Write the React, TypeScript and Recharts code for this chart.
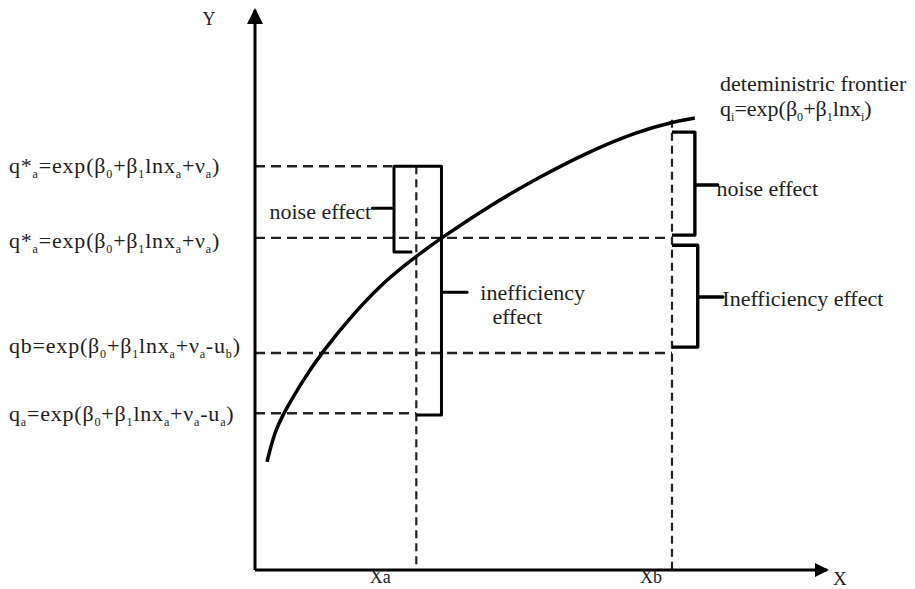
import React from 'react';
import { ComposedChart, Line, XAxis, YAxis, ReferenceLine, ReferenceDot } from 'recharts';

// ---- data (abstract units: input X 0..100, output Y 0..100) ----
const X_A = 28.2;
const X_B = 72.9;
const xTicks = [X_A, X_B];
const xTickLabels = ['Xa', 'Xb'];

const Q_STAR_TOP = 72.1;
const Q_STAR = 59.3;
const Q_B = 38.75;
const Q_A = 28.0;
const yTicks = [Q_STAR_TOP, Q_STAR, Q_B, Q_A];
type Part = [string, string];
const yTickLabels: Part[][] = [
  [['q*', ''], ['a', 's'], ['=exp(β', ''], ['0', 's'], ['+β', ''], ['1', 's'], ['lnx', ''], ['a', 's'], ['+ν', ''], ['a', 's'], [')', '']],
  [['q*', ''], ['a', 's'], ['=exp(β', ''], ['0', 's'], ['+β', ''], ['1', 's'], ['lnx', ''], ['a', 's'], ['+ν', ''], ['a', 's'], [')', '']],
  [['qb=exp(β', ''], ['0', 's'], ['+β', ''], ['1', 's'], ['lnx', ''], ['a', 's'], ['+ν', ''], ['a', 's'], ['-u', ''], ['b', 's'], [')', '']],
  [['q', ''], ['a', 's'], ['=exp(β', ''], ['0', 's'], ['+β', ''], ['1', 's'], ['lnx', ''], ['a', 's'], ['+ν', ''], ['a', 's'], ['-u', ''], ['a', 's'], [')', '']],
];

const frontierX = [2.1, 3.3, 5.1, 8.2, 11.6, 17.3, 23.1, 28.4, 32.6, 40.6, 49.4, 58.1, 66.9, 72.9, 76.9];
const frontierY = [19.3, 24.3, 28.2, 33.6, 38.75, 45.9, 52.0, 56.2, 59.3, 64.8, 70.0, 74.6, 78.3, 80.0, 80.7];

// brace outlines (polyline vertices)
const braceLeftX = [27.5, 24.3, 24.3, 20.5, 24.3, 24.3, 32.6, 32.6, 37.1, 32.6, 32.6, 28.2];
const braceLeftY = [56.8, 56.8, 64.6, 64.6, 64.6, 72.1, 72.1, 49.6, 49.6, 49.6, 27.7, 27.7];
const braceNoiseBX = [72.9, 76.9, 76.9, 80.9, 76.9, 76.9, 72.9];
const braceNoiseBY = [78.2, 78.2, 68.75, 68.75, 68.75, 59.8, 59.8];
const braceIneffBX = [72.9, 77.4, 77.4, 81.8, 77.4, 77.4, 72.9];
const braceIneffBY = [58.0, 58.0, 48.75, 48.75, 48.75, 39.8, 39.8];

// dashed guides: [x1, y1, x2, y2]
const guideH = [
  [0, Q_STAR_TOP, 24.0, Q_STAR_TOP],
  [0, Q_STAR, X_B, Q_STAR],
  [0, Q_B, X_B, Q_B],
  [0, Q_A, X_A, Q_A],
];
const guideV = [
  [X_A, Q_STAR_TOP, X_A, 0],
  [X_B, 80.4, X_B, 0],
];

// annotations: text, anchor point
const annotations: { parts: Part[]; x: number; y: number; anchor: string }[] = [
  { parts: [['noise effect', '']], x: 20.3, y: 62.6, anchor: 'end' },
  { parts: [['inefficiency', '']], x: 39.4, y: 48.3, anchor: 'start' },
  { parts: [['effect', '']], x: 41.5, y: 43.9, anchor: 'start' },
  { parts: [['noise effect', '']], x: 80.7, y: 66.8, anchor: 'start' },
  { parts: [['Inefficiency effect', '']], x: 81.7, y: 47.2, anchor: 'start' },
  { parts: [['deteministric frontier', '']], x: 81.3, y: 85.6, anchor: 'start' },
  { parts: [['q', ''], ['i', 's'], ['=exp(β', ''], ['0', 's'], ['+β', ''], ['1', 's'], ['lnx', ''], ['i', 's'], [')', '']], x: 81.3, y: 81.1, anchor: 'start' },
];

const zip = (xs: number[], ys: number[]) => xs.map((x, i) => ({ x, y: ys[i] }));

const FONT = "'Liberation Serif', 'DejaVu Serif', 'Noto Serif', serif";
const INK = '#1e1e1e';

function Rich({ x, y, parts, size, anchor, spacing = 0 }: { x: number; y: number; parts: Part[]; size: number; anchor: string; spacing?: number }) {
  const shift = size * 0.22;
  let prevSub = false;
  return (
    <text x={x} y={y} fontFamily={FONT} fontSize={size} fill={INK} textAnchor={anchor as any} letterSpacing={spacing}>
      {parts.map(([t, k], i) => {
        const sub = k === 's';
        let dy = 0;
        if (sub && !prevSub) dy = shift;
        if (!sub && prevSub) dy = -shift;
        prevSub = sub;
        return (
          <tspan key={i} dy={dy} fontFamily={FONT} fontSize={sub ? size * 0.55 : size}>
            {t}
          </tspan>
        );
      })}
    </text>
  );
}

const yLabelNudge = [7, 10, 0, 8];

const YTick = (props: any) => {
  const { y, index } = props;
  return <Rich x={9} y={y + yLabelNudge[index]} parts={yTickLabels[index]} size={22} anchor="start" spacing={0.8} />;
};

const xLabelNudge = [-36, -21];
const XTick = (props: any) => {
  const { x, y, index } = props;
  return (
    <text x={x + xLabelNudge[index]} y={y + 5} fontFamily={FONT} fontSize={18} fill={INK} textAnchor="middle">
      {xTickLabels[index]}
    </text>
  );
};

const XArrow = (props: any) => {
  const { cx, cy } = props;
  return (
    <g>
      <path d={`M${cx - 12},${cy - 7} L${cx + 2},${cy} L${cx - 12},${cy + 7} Z`} fill="#000" />
      <text x={cx + 6} y={cy + 15} fontFamily={FONT} fontSize={19} fill={INK}>X</text>
    </g>
  );
};
const YArrow = (props: any) => {
  const { cx, cy } = props;
  return (
    <g>
      <path d={`M${cx - 8},${cy + 14} L${cx},${cy - 2} L${cx + 8},${cy + 14} Z`} fill="#000" />
      <text x={cx - 46} y={cy + 15} fontFamily={FONT} fontSize={18} fill={INK} textAnchor="middle">Y</text>
    </g>
  );
};

export default function App() {
  const frontier = zip(frontierX, frontierY);
  return (
    <div style={{ position: 'absolute', left: 0, top: 0, background: '#fff', fontFamily: FONT }}>
      <ComposedChart width={915} height={589} margin={{ top: 10, right: 88, bottom: 0, left: 0 }}>
        <XAxis
          dataKey="x"
          type="number"
          domain={[0, 100]}
          ticks={xTicks}
          tick={<XTick />}
          tickLine={false}
          axisLine={{ stroke: '#000', strokeWidth: 3 }}
          height={19}
          allowDataOverflow
        />
        <YAxis
          dataKey="y"
          type="number"
          domain={[0, 100]}
          ticks={yTicks}
          tick={<YTick />}
          tickLine={false}
          axisLine={{ stroke: '#000', strokeWidth: 3 }}
          width={255}
          allowDataOverflow
        />
        {guideH.map(([x1, y1, x2, y2], i) => (
          <ReferenceLine key={'h' + i} segment={[{ x: x1, y: y1 }, { x: x2, y: y2 }]} stroke="#222" strokeWidth={2.4} strokeDasharray="10 6" />
        ))}
        {guideV.map(([x1, y1, x2, y2], i) => (
          <ReferenceLine key={'v' + i} segment={[{ x: x1, y: y1 }, { x: x2, y: y2 }]} stroke="#222" strokeWidth={2.2} strokeDasharray="8 5" />
        ))}
        <Line data={frontier} dataKey="y" type="basis" stroke="#000" strokeWidth={3.5} dot={false} isAnimationActive={false} />
        <Line data={zip(braceLeftX, braceLeftY)} dataKey="y" type="linear" stroke="#000" strokeWidth={3} strokeLinejoin="round" dot={false} isAnimationActive={false} />
        <Line data={zip(braceNoiseBX, braceNoiseBY)} dataKey="y" type="linear" stroke="#000" strokeWidth={3.4} strokeLinejoin="round" dot={false} isAnimationActive={false} />
        <Line data={zip(braceIneffBX, braceIneffBY)} dataKey="y" type="linear" stroke="#000" strokeWidth={3.4} strokeLinejoin="round" dot={false} isAnimationActive={false} />
        {annotations.map((a, i) => (
          <ReferenceDot
            key={'a' + i}
            x={a.x}
            y={a.y}
            r={1}
            ifOverflow="visible"
            shape={(p: any) => <Rich x={p.cx} y={p.cy} parts={a.parts} size={22} anchor={a.anchor} />}
          />
        ))}
        <ReferenceDot x={100} y={0} r={1} ifOverflow="visible" shape={(p: any) => <XArrow {...p} />} />
        <ReferenceDot x={0} y={100} r={1} ifOverflow="visible" shape={(p: any) => <YArrow {...p} />} />
      </ComposedChart>
    </div>
  );
}
